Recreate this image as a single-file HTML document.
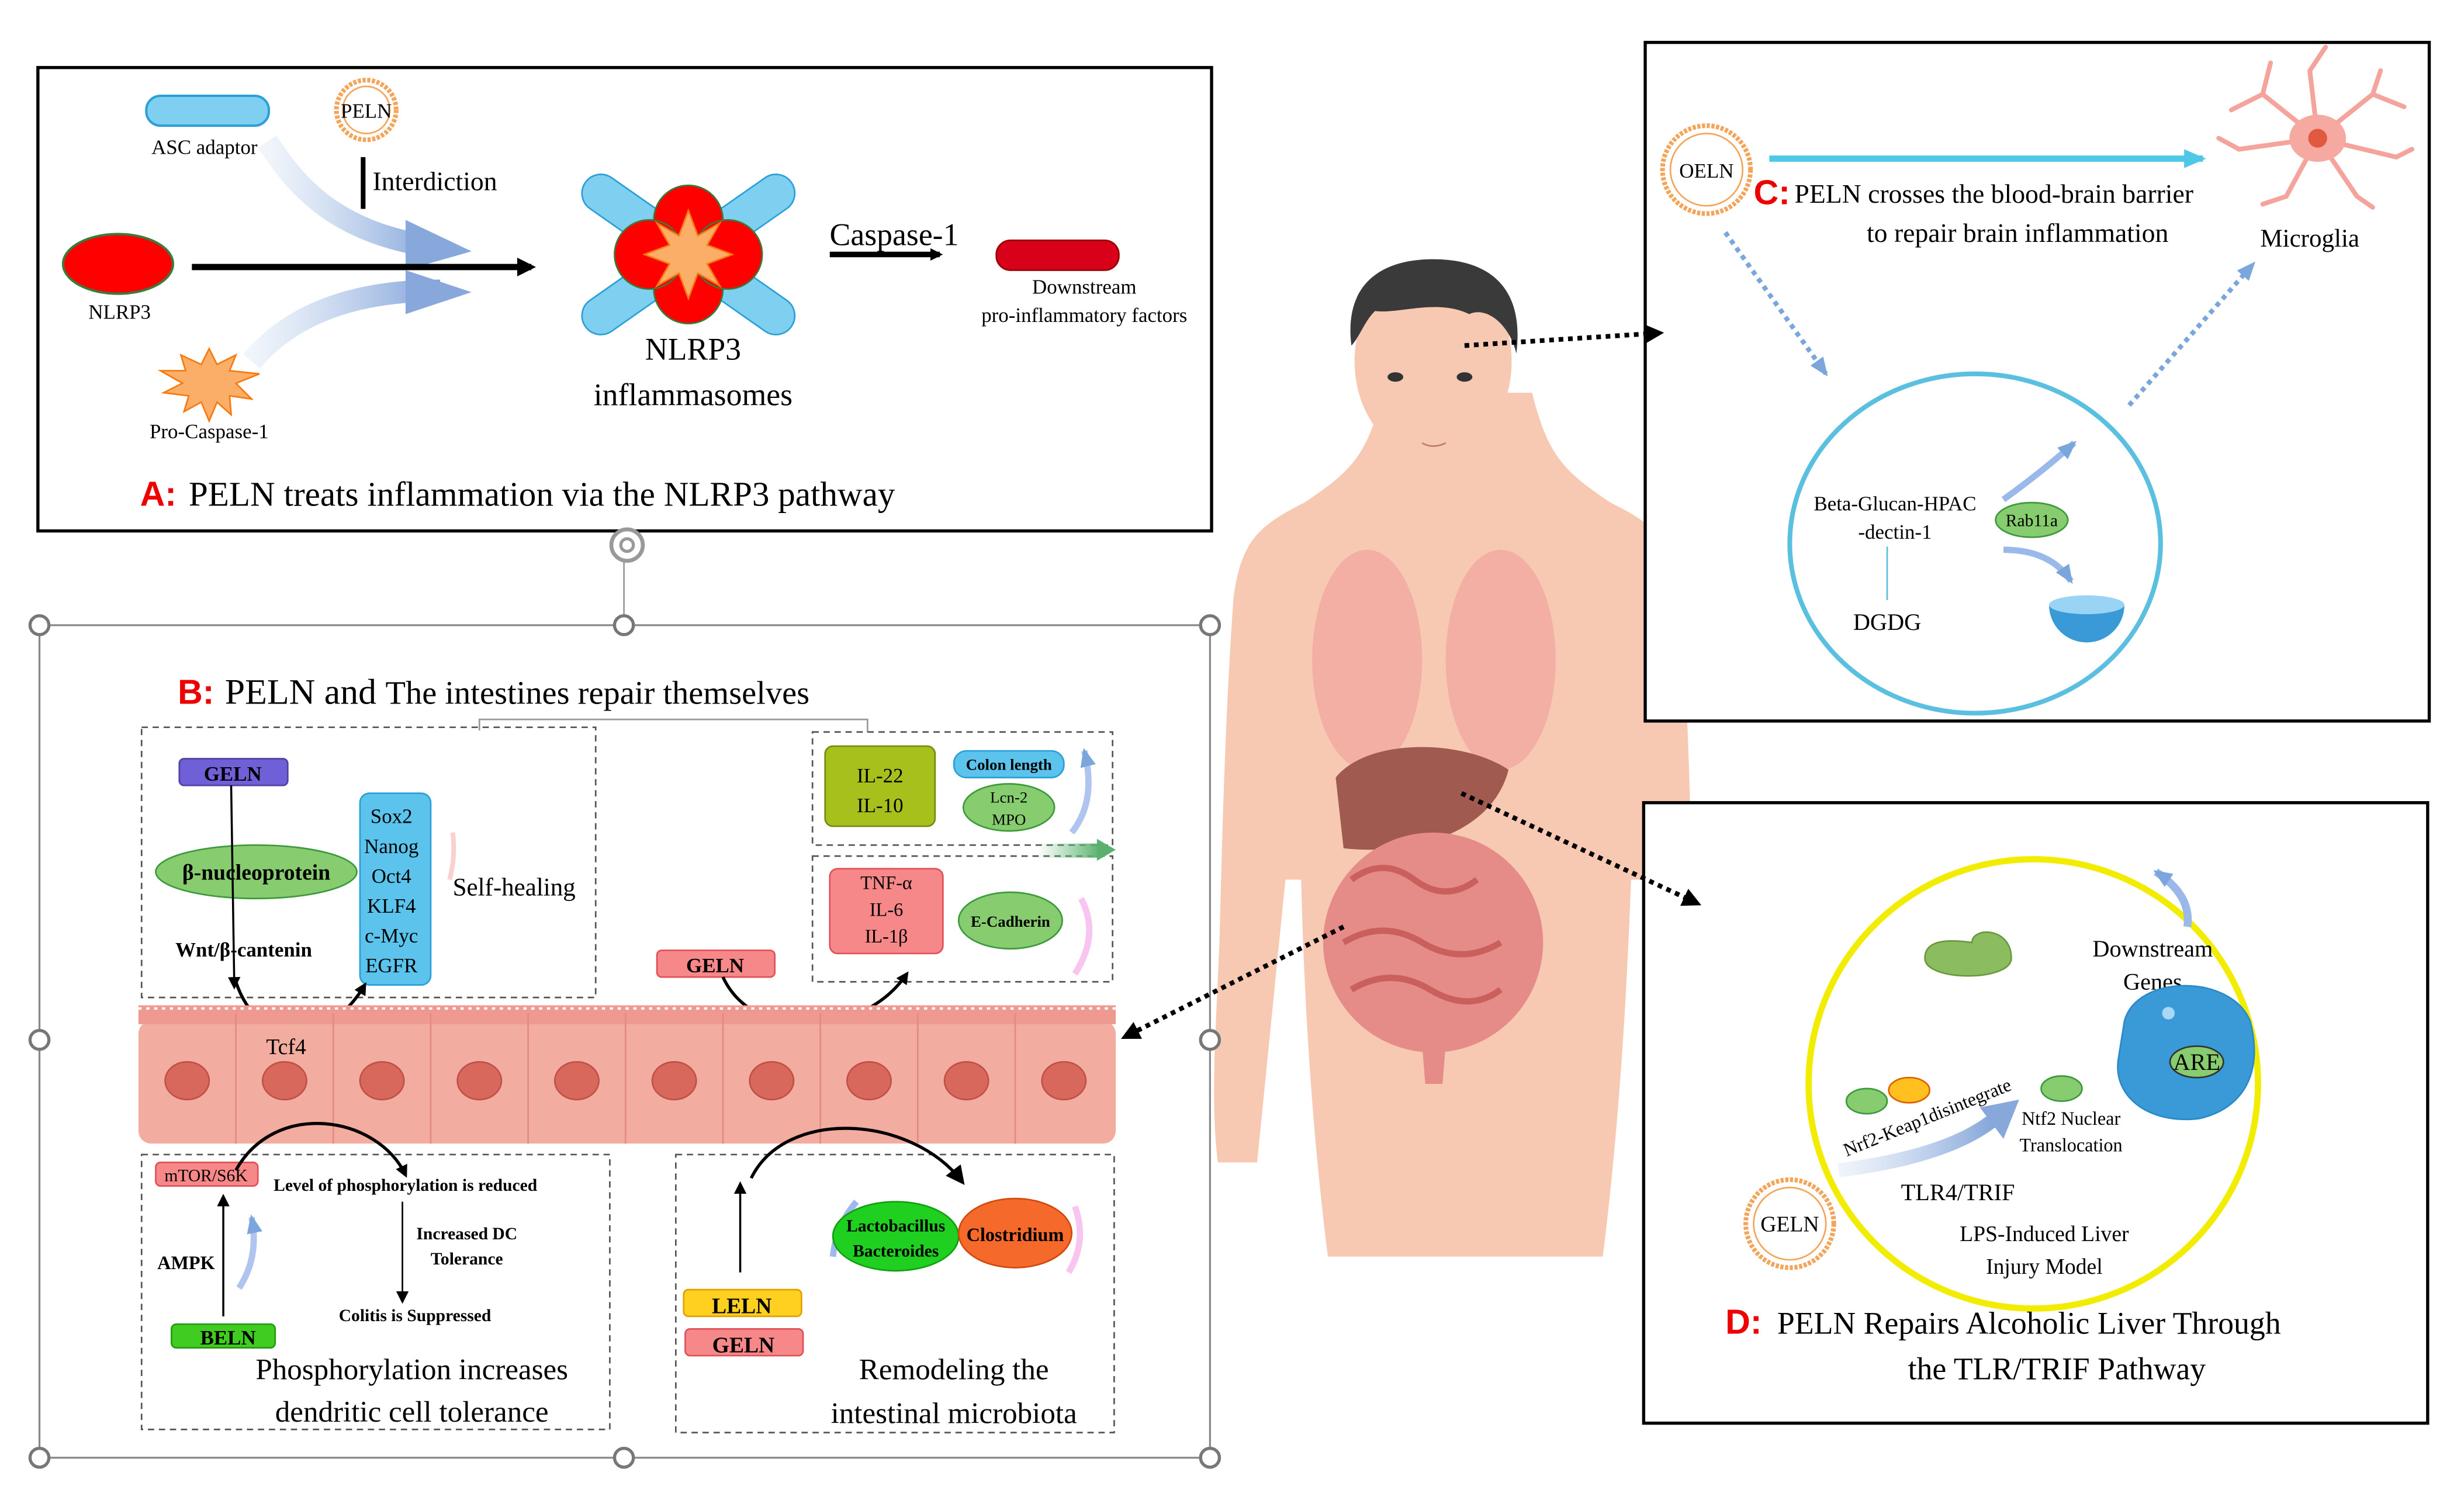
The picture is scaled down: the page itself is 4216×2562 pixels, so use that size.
<!DOCTYPE html>
<html><head><meta charset="utf-8"><style>
html,body{margin:0;padding:0;background:#fff;}
svg{display:block;}
text{font-family:"Liberation Serif",serif;}
.s{font-family:"Liberation Sans",sans-serif;font-weight:bold;fill:#e00;}
</style></head><body>
<svg width="4216" height="2562" viewBox="0 0 1568 953" xmlns="http://www.w3.org/2000/svg">
<defs>
<marker id="ah" markerWidth="8" markerHeight="8" refX="6" refY="4" orient="auto" markerUnits="userSpaceOnUse"><path d="M0,0 L8,4 L0,8 Z" fill="#000"/></marker>
<marker id="ahb" markerWidth="12" markerHeight="12" refX="9" refY="6" orient="auto" markerUnits="userSpaceOnUse"><path d="M0,0 L12,6 L0,12 Z" fill="#000"/></marker>
<marker id="ahc" markerWidth="14" markerHeight="12" refX="12" refY="6" orient="auto" markerUnits="userSpaceOnUse"><path d="M0,0 L14,6 L0,12 Z" fill="#4fc8e8"/></marker>
<marker id="ahd" markerWidth="12" markerHeight="10" refX="10" refY="5" orient="auto" markerUnits="userSpaceOnUse"><path d="M0,0 L12,5 L0,10 Z" fill="#7aa6dc"/></marker>
<linearGradient id="bl" x1="0" y1="0" x2="1" y2="0"><stop offset="0" stop-color="#b8ccec" stop-opacity="0.2"/><stop offset="1" stop-color="#7fa2d8"/></linearGradient>
<linearGradient id="gr" x1="0" x2="1"><stop offset="0" stop-color="#6cc080" stop-opacity="0"/><stop offset="1" stop-color="#5bb070"/></linearGradient>
</defs>

<!-- HUMAN -->
<g>
<path d="M880,250 C870,290 860,300 830,320 C800,335 790,345 785,380 C780,450 778,520 776,600 C774,650 770,700 775,740 L800,740 C805,690 812,620 818,560 L828,560 C830,640 835,720 845,800 L1020,800 C1030,720 1035,640 1038,560 L1046,560 C1050,620 1055,690 1060,740 L1080,740 C1085,700 1080,650 1078,600 C1076,520 1074,450 1070,380 C1065,345 1055,335 1025,320 C995,300 985,290 975,250 Z" fill="#f7c9b2"/>
<ellipse cx="912" cy="230" rx="50" ry="62" fill="#f7c9b2"/>
<path d="M860,220 C855,180 880,165 912,165 C950,165 970,185 965,225 C960,205 945,195 935,200 C915,190 890,200 875,198 C868,205 865,215 860,220 Z" fill="#3a3a3a"/>
<ellipse cx="888" cy="240" rx="5" ry="3" fill="#333"/><ellipse cx="932" cy="240" rx="5" ry="3" fill="#333"/>
<path d="M905,282 Q912,286 920,282" stroke="#c07a70" fill="none"/>
<ellipse cx="870" cy="420" rx="35" ry="70" fill="#f1a9a0" opacity="0.8"/>
<ellipse cx="955" cy="420" rx="35" ry="70" fill="#f1a9a0" opacity="0.8"/>
<path d="M850,495 C870,470 930,470 960,490 C950,530 900,545 855,540 Z" fill="#a15a50"/>
<ellipse cx="912" cy="600" rx="70" ry="70" fill="#e58c88"/>
<path d="M860,560 q20,-15 40,0 q20,15 40,0 M855,600 q25,-15 50,0 q25,15 50,0 M860,630 q25,-15 50,0 q25,15 45,0" stroke="#c9605e" stroke-width="4" fill="none"/>
<path d="M905,665 L920,665 L918,690 L907,690 Z" fill="#e58c88"/>
</g>

<!-- PANEL A -->
<rect x="24" y="43" width="747" height="295" fill="#fff" stroke="#000" stroke-width="2"/>
<rect x="93" y="61" width="78" height="19" rx="9" fill="#7fd0f0" stroke="#2a9fd8" stroke-width="1.5"/>
<text x="130" y="98" font-size="13" text-anchor="middle">ASC adaptor</text>
<circle cx="233" cy="70" r="19" fill="#fff" stroke="#f4a55a" stroke-width="3" stroke-dasharray="2 1"/>
<circle cx="233" cy="70" r="15" fill="none" stroke="#f4a55a" stroke-width="1"/>
<text x="233" y="75" font-size="13" text-anchor="middle">PELN</text>
<line x1="231" y1="100" x2="231" y2="133" stroke="#000" stroke-width="3"/>
<text x="237" y="121" font-size="17">Interdiction</text>
<ellipse cx="75" cy="168" rx="35" ry="19" fill="#f00" stroke="#3a7a3a" stroke-width="1.5"/>
<text x="76" y="203" font-size="13" text-anchor="middle">NLRP3</text>
<polygon points="133,222 138,232 150,226 146,236 165,238 150,244 160,254 146,252 147,264 138,256 133,268 128,256 117,262 120,252 104,250 116,244 102,236 118,236 115,226 128,232" fill="#fbae68" stroke="#f77a10" stroke-width="1"/>
<text x="133" y="279" font-size="13" text-anchor="middle">Pro-Caspase-1</text>
<path d="M170,90 C195,130 225,150 280,158" stroke="url(#bl)" stroke-width="14" fill="none"/>
<polygon points="258,140 300,160 258,172" fill="#88a8dc"/>
<path d="M160,230 C185,200 225,185 280,185" stroke="url(#bl)" stroke-width="14" fill="none"/>
<polygon points="258,172 300,186 258,200" fill="#88a8dc"/>
<line x1="122" y1="170" x2="338" y2="170" stroke="#000" stroke-width="4" marker-end="url(#ahb)"/>
<g transform="translate(438,162)">
<rect x="-80" y="-12" width="160" height="24" rx="12" fill="#7fd0f0" stroke="#2a9fd8" transform="rotate(35)"/>
<rect x="-80" y="-12" width="160" height="24" rx="12" fill="#7fd0f0" stroke="#2a9fd8" transform="rotate(-35)"/>
<circle cx="0" cy="-22" r="22" fill="#f00" stroke="#3a7a3a"/>
<circle cx="0" cy="22" r="22" fill="#f00" stroke="#3a7a3a"/>
<circle cx="-25" cy="0" r="22" fill="#f00" stroke="#3a7a3a"/>
<circle cx="25" cy="0" r="22" fill="#f00" stroke="#3a7a3a"/>
<polygon points="0,-28 6,-12 20,-20 12,-6 28,0 12,6 20,20 6,12 0,28 -6,12 -20,20 -12,6 -28,0 -12,-6 -20,-20 -6,-12" fill="#fbae68" stroke="#f77a10"/>
</g>
<text x="441" y="229" font-size="20" text-anchor="middle">NLRP3</text>
<text x="441" y="258" font-size="20" text-anchor="middle">inflammasomes</text>
<text x="569" y="156" font-size="20" text-anchor="middle">Caspase-1</text>
<line x1="528" y1="162" x2="598" y2="162" stroke="#000" stroke-width="3.5" marker-end="url(#ah)"/>
<rect x="634" y="153" width="78" height="19" rx="9" fill="#d9001a" stroke="#900" stroke-width="1"/>
<text x="690" y="187" font-size="13" text-anchor="middle">Downstream</text>
<text x="690" y="205" font-size="13" text-anchor="middle">pro-inflammatory factors</text>
<text x="89" y="322" font-size="22" class="s">A:</text>
<text x="120" y="322" font-size="22">PELN treats inflammation via the NLRP3 pathway</text>
<!-- rotate icon -->
<circle cx="399" cy="347" r="10" fill="#fff" stroke="#999" stroke-width="2.5"/>
<circle cx="399" cy="347" r="4" fill="none" stroke="#999" stroke-width="2"/>
<line x1="397" y1="357" x2="397" y2="398" stroke="#999" stroke-width="1"/>

<!-- PANEL B frame -->
<rect x="25" y="398" width="745" height="530" fill="none" stroke="#888" stroke-width="1.2"/>
<g fill="#fff" stroke="#777" stroke-width="2">
<circle cx="25" cy="398" r="6"/><circle cx="397" cy="398" r="6"/><circle cx="770" cy="398" r="6"/>
<circle cx="25" cy="662" r="6"/><circle cx="770" cy="662" r="6"/>
<circle cx="25" cy="928" r="6"/><circle cx="397" cy="928" r="6"/><circle cx="770" cy="928" r="6"/>
</g>
<text x="113" y="448" font-size="22" class="s">B:</text>
<text x="143" y="448" font-size="23">PELN and <tspan font-size="21">The intestines repair themselves</tspan></text>
<path d="M305,465 V458 H552 V466" stroke="#999" fill="none"/>
<g fill="none" stroke="#555" stroke-dasharray="4 3" stroke-width="1">
<rect x="90" y="463" width="289" height="172"/>
<rect x="517" y="466" width="191" height="72"/>
<rect x="517" y="545" width="191" height="80"/>
<rect x="90" y="735" width="298" height="175"/>
<rect x="430" y="735" width="279" height="177"/>
</g>
<rect x="114" y="483" width="69" height="17" rx="3" fill="#7060d8" stroke="#5040a0"/>
<text x="148" y="497" font-size="13" font-weight="bold" text-anchor="middle">GELN</text>
<ellipse cx="163" cy="555" rx="64" ry="17" fill="#88cc70" stroke="#3c9a3c"/>
<text x="163" y="560" font-size="14" font-weight="bold" text-anchor="middle">β-nucleoprotein</text>
<line x1="147" y1="500" x2="149" y2="628" stroke="#000" stroke-width="1.3" marker-end="url(#ah)"/>
<text x="155" y="609" font-size="13" font-weight="bold" text-anchor="middle">Wnt/β-cantenin</text>
<rect x="229" y="505" width="45" height="122" rx="6" fill="#5cc4ec" stroke="#2a9fd8"/>
<g font-size="13" text-anchor="middle"><text x="249" y="524">Sox2</text><text x="249" y="543">Nanog</text><text x="249" y="562">Oct4</text><text x="249" y="581">KLF4</text><text x="249" y="600">c-Myc</text><text x="249" y="619">EGFR</text></g>
<path d="M286,560 Q290,545 288,530" stroke="#fbd0d0" stroke-width="3" fill="none"/>
<text x="288" y="570" font-size="16">Self-healing</text>
<path d="M150,625 C165,670 210,665 232,627" stroke="#000" stroke-width="2" fill="none" marker-end="url(#ah)"/>
<rect x="525" y="475" width="70" height="51" rx="5" fill="#a8c01c" stroke="#788a10"/>
<text x="560" y="498" font-size="13" text-anchor="middle">IL-22</text><text x="560" y="517" font-size="13" text-anchor="middle">IL-10</text>
<rect x="607" y="478" width="70" height="17" rx="8" fill="#5cc4ec" stroke="#2a9fd8"/>
<text x="642" y="490" font-size="10" font-weight="bold" text-anchor="middle">Colon length</text>
<ellipse cx="642" cy="514" rx="29" ry="15" fill="#88cc70" stroke="#3c9a3c"/>
<text x="642" y="511" font-size="10" text-anchor="middle">Lcn-2</text><text x="642" y="525" font-size="10" text-anchor="middle">MPO</text>
<path d="M682,530 Q698,510 690,478" stroke="#b0c4f0" stroke-width="4" fill="none" marker-end="url(#ahd)"/>
<rect x="660" y="537" width="40" height="9" fill="url(#gr)"/><polygon points="698,534 710,541 698,548" fill="#5bb070"/>
<rect x="528" y="553" width="72" height="54" rx="5" fill="#f7888a" stroke="#e0505a"/>
<g font-size="12" text-anchor="middle"><text x="564" y="566">TNF-α</text><text x="564" y="583">IL-6</text><text x="564" y="600">IL-1β</text></g>
<ellipse cx="643" cy="586" rx="33" ry="18" fill="#88cc70" stroke="#3c9a3c"/>
<text x="643" y="590" font-size="10" font-weight="bold" text-anchor="middle">E-Cadherin</text>
<path d="M688,572 Q700,595 684,620" stroke="#f8c4f0" stroke-width="4" fill="none"/>
<rect x="418" y="605" width="75" height="17" rx="3" fill="#f7888a" stroke="#e0505a"/>
<text x="455" y="619" font-size="13" font-weight="bold" text-anchor="middle">GELN</text>
<path d="M460,622 C480,665 550,660 577,620" stroke="#000" stroke-width="2" fill="none" marker-end="url(#ah)"/>
<!-- epithelium -->
<g>
<rect x="88" y="650" width="622" height="78" rx="8" fill="#f3aca0"/>
<g fill="#ee9a90">
<rect x="88" y="640" width="622" height="12"/>
</g>
<g stroke="#e48a80" stroke-width="1">
<line x1="150" y1="645" x2="150" y2="728"/><line x1="212" y1="645" x2="212" y2="728"/><line x1="274" y1="645" x2="274" y2="728"/><line x1="336" y1="645" x2="336" y2="728"/><line x1="398" y1="645" x2="398" y2="728"/><line x1="460" y1="645" x2="460" y2="728"/><line x1="522" y1="645" x2="522" y2="728"/><line x1="584" y1="645" x2="584" y2="728"/><line x1="646" y1="645" x2="646" y2="728"/>
</g>
<g fill="#d8675c" stroke="#c05048">
<ellipse cx="119" cy="688" rx="14" ry="12"/><ellipse cx="181" cy="688" rx="14" ry="12"/><ellipse cx="243" cy="688" rx="14" ry="12"/><ellipse cx="305" cy="688" rx="14" ry="12"/><ellipse cx="367" cy="688" rx="14" ry="12"/><ellipse cx="429" cy="688" rx="14" ry="12"/><ellipse cx="491" cy="688" rx="14" ry="12"/><ellipse cx="553" cy="688" rx="14" ry="12"/><ellipse cx="615" cy="688" rx="14" ry="12"/><ellipse cx="677" cy="688" rx="14" ry="12"/>
</g>
<path d="M88,642 h622" stroke="#fff" stroke-width="1.5" stroke-dasharray="2 3"/>
</g>
<text x="182" y="671" font-size="14" text-anchor="middle">Tcf4</text>
<rect x="99" y="740" width="65" height="15" rx="3" fill="#f7888a" stroke="#e0505a"/>
<text x="131" y="752" font-size="11" text-anchor="middle">mTOR/S6K</text>
<path d="M150,745 C175,700 240,710 258,748" stroke="#000" stroke-width="2" fill="none" marker-end="url(#ah)"/>
<text x="174" y="758" font-size="11" font-weight="bold">Level of phosphorylation is reduced</text>
<line x1="256" y1="765" x2="256" y2="828" stroke="#000" stroke-width="1" marker-end="url(#ah)"/>
<text x="297" y="789" font-size="11" font-weight="bold" text-anchor="middle">Increased DC</text>
<text x="297" y="805" font-size="11" font-weight="bold" text-anchor="middle">Tolerance</text>
<text x="264" y="841" font-size="11" font-weight="bold" text-anchor="middle">Colitis is Suppressed</text>
<line x1="142" y1="838" x2="142" y2="762" stroke="#000" stroke-width="1.3" marker-end="url(#ah)"/>
<text x="100" y="808" font-size="12" font-weight="bold">AMPK</text>
<path d="M152,820 Q165,800 160,775" stroke="#b0c4f0" stroke-width="4" fill="none" marker-end="url(#ahd)"/>
<rect x="109" y="843" width="66" height="15" rx="3" fill="#40cc20" stroke="#2a9a10"/>
<text x="145" y="856" font-size="13" font-weight="bold" text-anchor="middle">BELN</text>
<text x="262" y="878" font-size="19" text-anchor="middle">Phosphorylation increases</text>
<text x="262" y="905" font-size="19" text-anchor="middle">dendritic cell tolerance</text>
<line x1="471" y1="810" x2="471" y2="754" stroke="#000" stroke-width="1.3" marker-end="url(#ah)"/>
<path d="M478,750 C500,705 580,710 612,752" stroke="#000" stroke-width="2" fill="none" marker-end="url(#ahb)"/>
<path d="M530,800 Q532,780 545,765" stroke="#a0b8f0" stroke-width="4" fill="none"/>
<ellipse cx="570" cy="787" rx="40" ry="22" fill="#20d020" stroke="#10a010"/>
<text x="570" y="784" font-size="11" font-weight="bold" text-anchor="middle">Lactobacillus</text>
<text x="570" y="800" font-size="11" font-weight="bold" text-anchor="middle">Bacteroides</text>
<ellipse cx="646" cy="785" rx="36" ry="22" fill="#f56a2a" stroke="#d04a10"/>
<text x="646" y="790" font-size="12" font-weight="bold" text-anchor="middle">Clostridium</text>
<path d="M684,768 Q692,790 680,810" stroke="#f8c4f0" stroke-width="4" fill="none"/>
<rect x="435" y="821" width="75" height="17" rx="3" fill="#ffd020" stroke="#e0a000"/>
<text x="472" y="836" font-size="14" font-weight="bold" text-anchor="middle">LELN</text>
<rect x="436" y="846" width="75" height="17" rx="3" fill="#f7888a" stroke="#e0505a"/>
<text x="473" y="861" font-size="14" font-weight="bold" text-anchor="middle">GELN</text>
<text x="607" y="878" font-size="19" text-anchor="middle">Remodeling the</text>
<text x="607" y="906" font-size="19" text-anchor="middle">intestinal microbiota</text>

<!-- PANEL C -->
<rect x="1047" y="27" width="499" height="432" fill="#fff" stroke="#000" stroke-width="2"/>
<circle cx="1086" cy="108" r="28" fill="#fff" stroke="#f4a55a" stroke-width="3" stroke-dasharray="2 1"/>
<circle cx="1086" cy="108" r="23" fill="none" stroke="#f4a55a"/>
<text x="1086" y="113" font-size="13" text-anchor="middle">OELN</text>
<line x1="1126" y1="101" x2="1402" y2="101" stroke="#4fc8e8" stroke-width="4" marker-end="url(#ahc)"/>
<text x="1116" y="130" font-size="22" class="s">C:</text>
<text x="1142" y="129" font-size="17">PELN crosses the blood-brain barrier</text>
<text x="1284" y="154" font-size="17" text-anchor="middle">to repair brain inflammation</text>
<g stroke="#f4a49c" stroke-width="3" fill="none" stroke-linecap="round">
<path d="M1475,88 L1440,60 L1420,70 M1440,60 L1445,40 M1475,88 L1470,45 L1480,30 M1475,88 L1510,60 L1530,68 M1510,60 L1515,45 M1475,88 L1525,100 L1535,95 M1475,88 L1500,125 L1510,132 M1475,88 L1455,125 L1440,130 M1475,88 L1425,95 L1412,88"/>
</g>
<ellipse cx="1475" cy="88" rx="18" ry="15" fill="#f6a9a0"/>
<circle cx="1475" cy="88" r="6" fill="#e05a40"/>
<text x="1470" y="157" font-size="16" text-anchor="middle">Microglia</text>
<line x1="1098" y1="148" x2="1162" y2="238" stroke="#7aa6dc" stroke-width="3" stroke-dasharray="3 3" marker-end="url(#ahd)"/>
<line x1="1355" y1="258" x2="1434" y2="168" stroke="#7aa6dc" stroke-width="3" stroke-dasharray="3 3" marker-end="url(#ahd)"/>
<ellipse cx="1257" cy="346" rx="118" ry="108" fill="none" stroke="#5bc0e0" stroke-width="3"/>
<text x="1206" y="325" font-size="13" text-anchor="middle">Beta-Glucan-HPAC</text>
<text x="1206" y="343" font-size="13" text-anchor="middle">-dectin-1</text>
<line x1="1201" y1="348" x2="1201" y2="382" stroke="#5bc0e0"/>
<text x="1201" y="401" font-size="15" text-anchor="middle">DGDG</text>
<path d="M1275,318 Q1300,300 1320,282" stroke="#9ab8ea" stroke-width="4" fill="none" marker-end="url(#ahd)"/>
<ellipse cx="1293" cy="331" rx="23" ry="11" fill="#88cc70" stroke="#3c9a3c"/>
<text x="1293" y="335" font-size="11" text-anchor="middle">Rab11a</text>
<path d="M1275,350 Q1305,350 1318,370" stroke="#9ab8ea" stroke-width="4" fill="none" marker-end="url(#ahd)"/>
<path d="M1304,385 A24,24 0 0 0 1352,385 Z" fill="#3a9ad8"/>
<ellipse cx="1328" cy="385" rx="24" ry="6" fill="#9ad4f4"/>

<!-- PANEL D -->
<rect x="1046" y="511" width="499" height="395" fill="#fff" stroke="#000" stroke-width="2"/>
<circle cx="1294" cy="690" r="143" fill="none" stroke="#f2ec00" stroke-width="4"/>
<path d="M1255,600 C1255,590 1280,590 1280,610 C1280,625 1225,625 1225,610 C1225,598 1240,598 1255,600 Z" fill="#8cbc60" stroke="#6a9a40"/>
<text x="1370" y="609" font-size="15" text-anchor="middle">Downstream</text>
<text x="1370" y="630" font-size="15" text-anchor="middle">Genes</text>
<path d="M1392,590 Q1395,570 1372,555" stroke="#9ab8ea" stroke-width="5" fill="none" marker-end="url(#ahd)"/>
<path d="M1352,650 C1360,620 1420,620 1432,650 C1440,680 1430,705 1400,712 C1370,716 1345,700 1348,675 Z" fill="#3a9ad8" stroke="#2a8ac8"/>
<circle cx="1380" cy="645" r="4" fill="#a8d8f4"/>
<ellipse cx="1398" cy="676" rx="17" ry="10" fill="#88cc70" stroke="#333"/>
<text x="1398" y="681" font-size="15" text-anchor="middle">ARE</text>
<ellipse cx="1188" cy="701" rx="13" ry="8" fill="#88cc70" stroke="#3c9a3c"/>
<ellipse cx="1215" cy="694" rx="13" ry="8" fill="#ffc020" stroke="#e06000"/>
<ellipse cx="1312" cy="693" rx="13" ry="8" fill="#88cc70" stroke="#3c9a3c"/>
<text x="1228" y="715" font-size="12" text-anchor="middle" transform="rotate(-22 1228 715)">Nrf2-Keap1disintegrate</text>
<path d="M1170,745 C1210,740 1250,730 1272,710" stroke="url(#bl)" stroke-width="9" fill="none"/>
<polygon points="1260,705 1285,700 1275,725" fill="#88a8dc"/>
<text x="1318" y="716" font-size="12" text-anchor="middle">Ntf2 Nuclear</text>
<text x="1318" y="733" font-size="12" text-anchor="middle">Translocation</text>
<text x="1246" y="764" font-size="15" text-anchor="middle">TLR4/TRIF</text>
<circle cx="1139" cy="779" r="28" fill="#fff" stroke="#f4a55a" stroke-width="3" stroke-dasharray="2 1"/>
<circle cx="1139" cy="779" r="23" fill="none" stroke="#f4a55a"/>
<text x="1139" y="784" font-size="14" text-anchor="middle">GELN</text>
<text x="1301" y="790" font-size="14" text-anchor="middle">LPS-Induced Liver</text>
<text x="1301" y="811" font-size="14" text-anchor="middle">Injury Model</text>
<text x="1098" y="849" font-size="22" class="s">D:</text>
<text x="1131" y="849" font-size="20">PELN Repairs Alcoholic Liver Through</text>
<text x="1309" y="878" font-size="20" text-anchor="middle">the TLR/TRIF Pathway</text>

<!-- dotted connectors -->
<line x1="932" y1="220" x2="1056" y2="212" stroke="#000" stroke-width="3" stroke-dasharray="3 3" marker-end="url(#ahb)"/>
<line x1="930" y1="505" x2="1080" y2="575" stroke="#000" stroke-width="3" stroke-dasharray="3 3" marker-end="url(#ahb)"/>
<line x1="855" y1="590" x2="716" y2="660" stroke="#000" stroke-width="3" stroke-dasharray="3 3" marker-end="url(#ahb)"/>
</svg>
</body></html>
